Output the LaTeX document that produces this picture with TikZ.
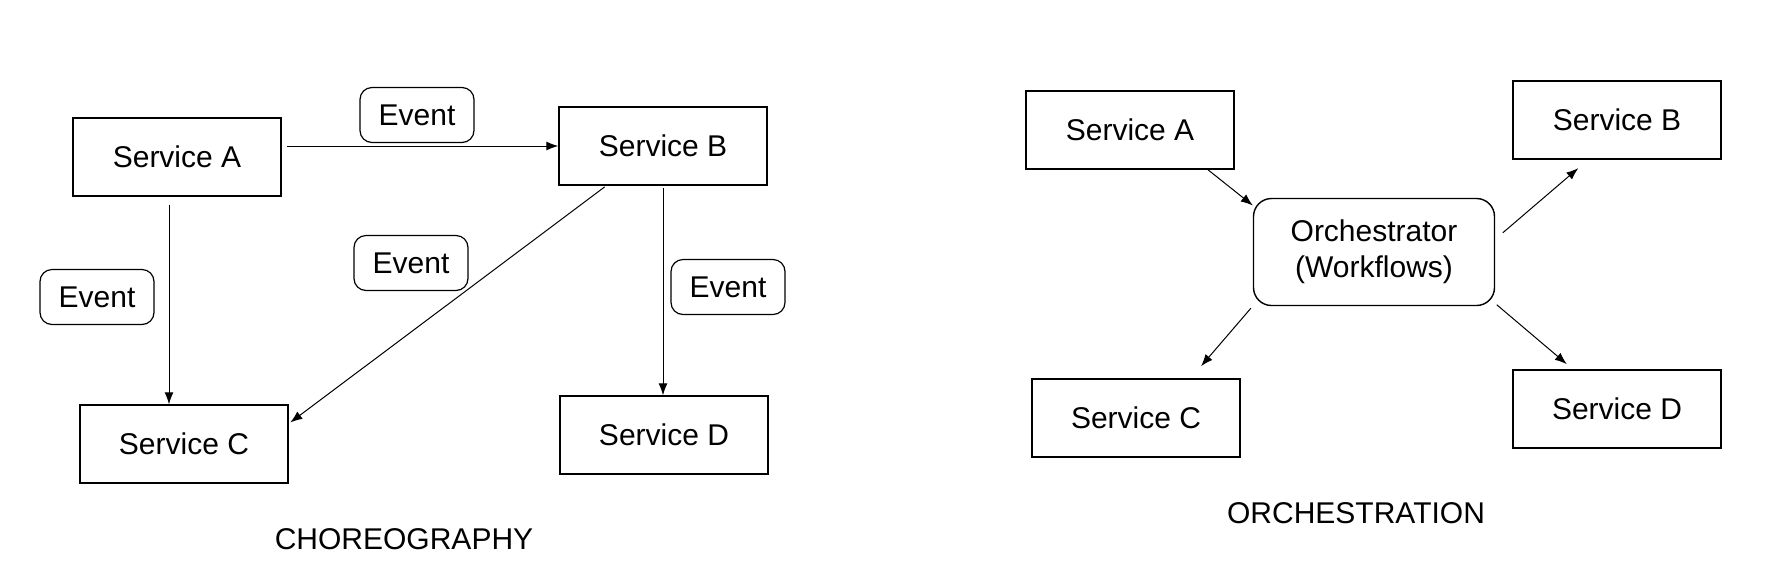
\documentclass[tikz,border=0pt]{standalone}
\usepackage{fontspec}
\setmainfont{Liberation Sans}
\usetikzlibrary{arrows.meta}
\begin{document}
\begin{tikzpicture}[x=0.5pt,y=-0.5pt]
\tikzstyle{every node}=[font=\fontsize{15}{18}\selectfont];
\tikzstyle{service}=[draw,line width=0.7pt,shape=rectangle,minimum width=104pt,minimum height=39pt];
\tikzstyle{event}=[draw,line width=0.6pt,rounded corners=6pt,minimum width=57pt,minimum height=27.5pt];
\tikzstyle{arr}=[-{Latex[length=6pt,width=4.5pt]},line width=0.5pt];
\useasboundingbox (0,0) rectangle (1770,580);
% choreography
\node[service] (a) at (177,157) {Service A};
\node[service] (b) at (663,146) {Service B};
\node[service] (c) at (184,444) {Service C};
\node[service] (d) at (664,435) {Service D};
\node[event]   (e1) at (417,115) {Event};
\node[event]   (e2) at (97,297)  {Event};
\node[event]   (e3) at (411,263) {Event};
\node[event]   (e4) at (728,287) {Event};
\node (title) at (404,539) {CHOREOGRAPHY};
\draw[arr, shorten <=2.5pt] (a.east |- b.west) -- (b.west);
\draw[arr, shorten <=4pt] ([xshift=-4pt]a.south) -- ([xshift=-4pt]a.south |- c.north);
\draw[arr, shorten <=1pt, shorten >=1pt] (b.215) -- (c.11);
\draw[arr, shorten <=1pt] (b.south) -- (b.south |- d.north);
% orchestration
\node[service] (a2) at (1130,130) {Service A};
\node[service] (b2) at (1617,120) {Service B};
\node[service] (c2) at (1136,418) {Service C};
\node[service] (d2) at (1617,409) {Service D};
\node[draw,line width=0.7pt,rounded corners=9pt,minimum width=120.5pt,minimum height=53.5pt,align=center] (orch) at (1374,252) {Orchestrator\\(Workflows)};
\node (title2) at (1356,513) {ORCHESTRATION};
\draw[arr] (a2.333) -- (orch.159);
\draw[arr, shorten <=5pt, shorten >=6.5pt] (orch.6) -- (b2.234);
\draw[arr, shorten <=1.5pt, shorten >=8pt] (orch.204) -- (c2.36);
\draw[arr, shorten <=1pt, shorten >=4pt] (orch.337) -- (d2.138);
\end{tikzpicture}
\end{document}
